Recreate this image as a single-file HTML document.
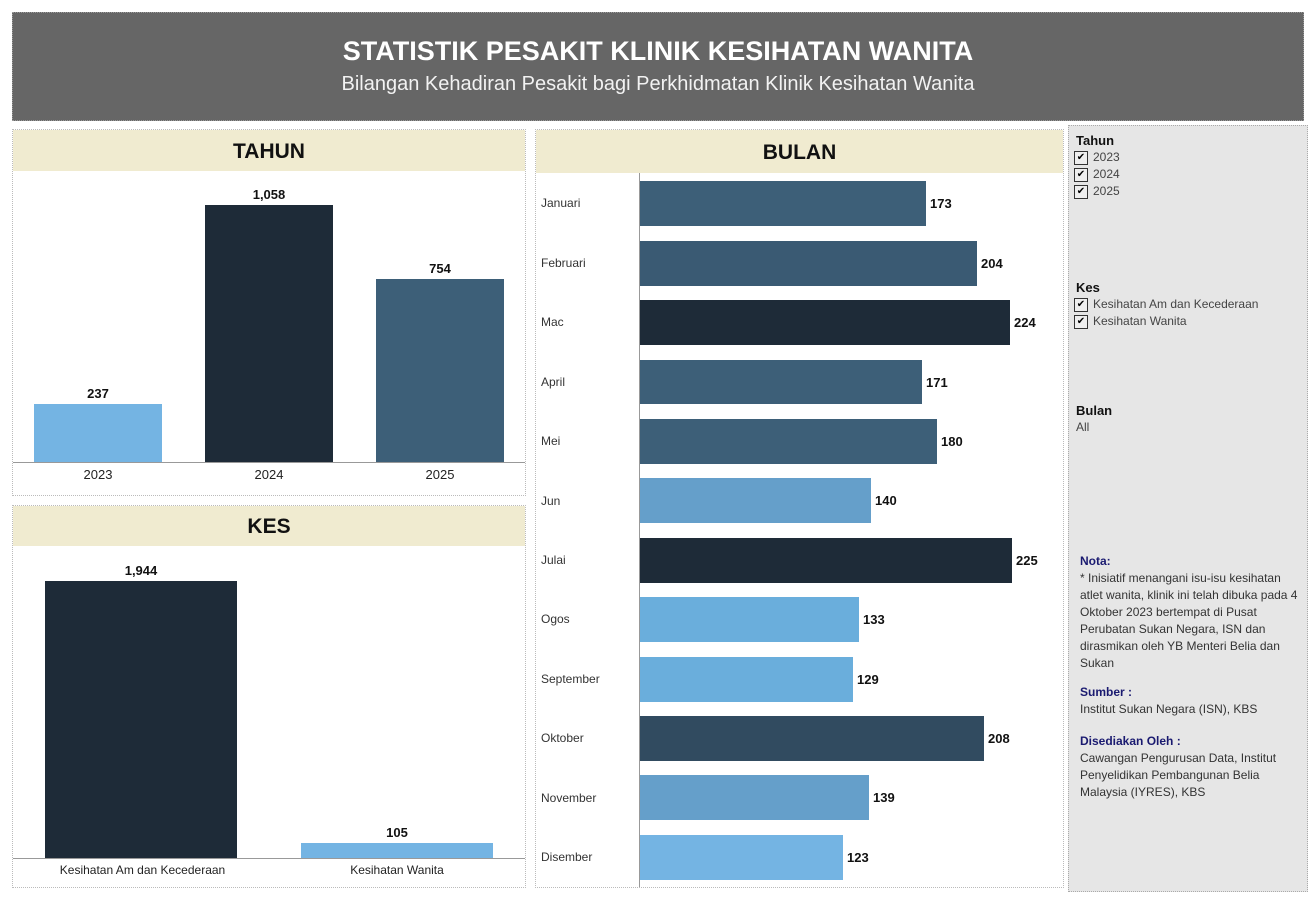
<!DOCTYPE html><html><head><meta charset="utf-8"><style>
body{margin:0;width:1316px;height:900px;background:#fff;position:relative;font-family:"Liberation Sans",sans-serif;overflow:hidden}
div{position:absolute;box-sizing:border-box}
.pan{border:1px dotted #bbb;background:#fff}
.band{background:#f0ebd0;font-weight:bold;font-size:21px;text-align:center;color:#111}
.v{font-size:13px;font-weight:bold;color:#111;text-align:center}
.l{font-size:13px;color:#222;text-align:center}
.m{font-size:12px;color:#333;left:541px}
.cb{width:14px;height:14px;border:1px solid #333;font-size:10px;line-height:12px;text-align:center;left:1074px;background:#eee}
.ft{font-size:12px;color:#444;left:1093px}
.h{font-size:13px;font-weight:bold;color:#111;left:1076px}
.n{font-size:12px;color:#333;left:1080px;width:218px;line-height:17px}
.nb{font-weight:bold;color:#1a1a70}
</style></head><body>
<div style="left:12px;top:12px;width:1292px;height:109px;background:#666;border:1px dotted #999"></div>
<div style="left:12px;top:36px;width:1292px;text-align:center;color:#fff;font-size:27px;font-weight:bold">STATISTIK PESAKIT KLINIK KESIHATAN WANITA</div>
<div style="left:12px;top:73px;width:1292px;text-align:center;color:#f2f2f2;font-size:20px">Bilangan Kehadiran Pesakit bagi Perkhidmatan Klinik Kesihatan Wanita</div>

<div class="pan" style="left:12px;top:129px;width:514px;height:367px"></div>
<div class="band" style="left:13px;top:130px;width:512px;height:41px;line-height:43px">TAHUN</div>
<div style="left:13px;top:462px;width:512px;height:1px;background:#999"></div>
<div style="left:34px;top:404px;width:128px;height:58px;background:#74b4e3"></div>
<div style="left:205px;top:205px;width:128px;height:257px;background:#1e2b38"></div>
<div style="left:376px;top:279px;width:128px;height:183px;background:#3d5f78"></div>
<div class="v" style="left:34px;top:386px;width:128px">237</div>
<div class="v" style="left:205px;top:187px;width:128px">1,058</div>
<div class="v" style="left:376px;top:261px;width:128px">754</div>
<div class="l" style="left:34px;top:467px;width:128px">2023</div>
<div class="l" style="left:205px;top:467px;width:128px">2024</div>
<div class="l" style="left:376px;top:467px;width:128px">2025</div>

<div class="pan" style="left:12px;top:505px;width:514px;height:383px"></div>
<div class="band" style="left:13px;top:506px;width:512px;height:40px;line-height:42px">KES</div>
<div style="left:13px;top:858px;width:512px;height:1px;background:#999"></div>
<div style="left:45px;top:581px;width:192px;height:277px;background:#1e2b38"></div>
<div style="left:301px;top:843px;width:192px;height:15px;background:#74b4e3"></div>
<div class="v" style="left:45px;top:563px;width:192px">1,944</div>
<div class="v" style="left:301px;top:825px;width:192px">105</div>
<div class="l" style="left:30px;top:863px;width:225px;font-size:12px">Kesihatan Am dan Kecederaan</div>
<div class="l" style="left:301px;top:863px;width:192px;font-size:12px">Kesihatan Wanita</div>

<div class="pan" style="left:535px;top:129px;width:529px;height:759px"></div>
<div class="band" style="left:536px;top:130px;width:527px;height:43px;line-height:45px">BULAN</div>
<div style="left:639px;top:173px;width:1px;height:714px;background:#999"></div>
<div class="m" style="top:196px">Januari</div><div style="left:640px;top:181px;width:286px;height:45px;background:#3d5f78"></div><div class="v" style="left:930px;top:196px">173</div>
<div class="m" style="top:256px">Februari</div><div style="left:640px;top:241px;width:337px;height:45px;background:#3a5a73"></div><div class="v" style="left:981px;top:256px">204</div>
<div class="m" style="top:315px">Mac</div><div style="left:640px;top:300px;width:370px;height:45px;background:#1e2b38"></div><div class="v" style="left:1014px;top:315px">224</div>
<div class="m" style="top:375px">April</div><div style="left:640px;top:360px;width:282px;height:44px;background:#3d5f78"></div><div class="v" style="left:926px;top:375px">171</div>
<div class="m" style="top:434px">Mei</div><div style="left:640px;top:419px;width:297px;height:45px;background:#3d5f78"></div><div class="v" style="left:941px;top:434px">180</div>
<div class="m" style="top:494px">Jun</div><div style="left:640px;top:478px;width:231px;height:45px;background:#659fca"></div><div class="v" style="left:875px;top:493px">140</div>
<div class="m" style="top:553px">Julai</div><div style="left:640px;top:538px;width:372px;height:45px;background:#1e2b38"></div><div class="v" style="left:1016px;top:553px">225</div>
<div class="m" style="top:612px">Ogos</div><div style="left:640px;top:597px;width:219px;height:45px;background:#6aaedc"></div><div class="v" style="left:863px;top:612px">133</div>
<div class="m" style="top:672px">September</div><div style="left:640px;top:657px;width:213px;height:45px;background:#6aaedc"></div><div class="v" style="left:857px;top:672px">129</div>
<div class="m" style="top:731px">Oktober</div><div style="left:640px;top:716px;width:344px;height:45px;background:#314b60"></div><div class="v" style="left:988px;top:731px">208</div>
<div class="m" style="top:791px">November</div><div style="left:640px;top:775px;width:229px;height:45px;background:#659fca"></div><div class="v" style="left:873px;top:790px">139</div>
<div class="m" style="top:850px">Disember</div><div style="left:640px;top:835px;width:203px;height:45px;background:#74b4e3"></div><div class="v" style="left:847px;top:850px">123</div>

<div style="left:1068px;top:125px;width:240px;height:767px;background:#e6e6e6;border:1px dotted #aaa"></div>
<div class="h" style="top:133px">Tahun</div>
<div class="cb" style="top:151px">✔</div><div class="ft" style="top:150px">2023</div>
<div class="cb" style="top:168px">✔</div><div class="ft" style="top:167px">2024</div>
<div class="cb" style="top:185px">✔</div><div class="ft" style="top:184px">2025</div>
<div class="h" style="top:280px">Kes</div>
<div class="cb" style="top:298px">✔</div><div class="ft" style="top:297px">Kesihatan Am dan Kecederaan</div>
<div class="cb" style="top:315px">✔</div><div class="ft" style="top:314px">Kesihatan Wanita</div>
<div class="h" style="top:403px">Bulan</div>
<div class="ft" style="top:420px;left:1076px">All</div>
<div class="n" style="top:553px"><span class="nb">Nota:</span><br>* Inisiatif menangani isu-isu kesihatan atlet wanita, klinik ini telah dibuka pada 4 Oktober 2023 bertempat di Pusat Perubatan Sukan Negara, ISN dan dirasmikan oleh YB Menteri Belia dan Sukan</div>
<div class="n" style="top:684px"><span class="nb">Sumber :</span><br>Institut Sukan Negara (ISN), KBS</div>
<div class="n" style="top:733px"><span class="nb">Disediakan Oleh :</span><br>Cawangan Pengurusan Data, Institut Penyelidikan Pembangunan Belia Malaysia (IYRES), KBS</div>
</body></html>
